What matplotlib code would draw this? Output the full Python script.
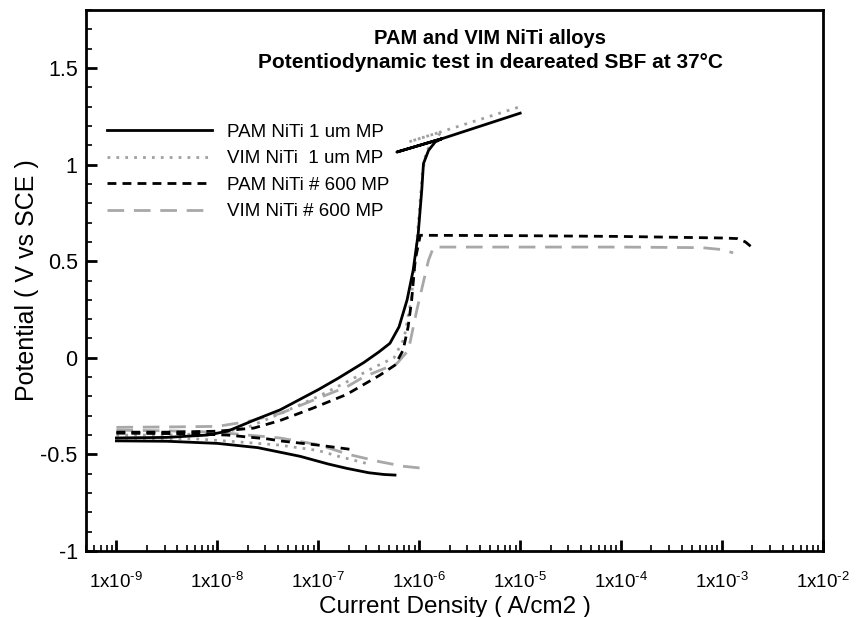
import matplotlib
matplotlib.use('Agg')
import matplotlib.pyplot as plt
import numpy as np
from matplotlib.ticker import FuncFormatter, LogLocator, MultipleLocator, NullFormatter

plt.rcParams['font.family'] = ['Liberation Sans', 'DejaVu Sans']
plt.rcParams['mathtext.fontset'] = 'custom'
plt.rcParams['mathtext.rm'] = 'Liberation Sans'
plt.rcParams['mathtext.it'] = 'Liberation Sans:italic'
plt.rcParams['mathtext.bf'] = 'Liberation Sans:bold'
plt.rcParams['axes.unicode_minus'] = False

# log10 of current density (A/cm2) and potential (V vs SCE)
pam1_cat_logi = [-9.0, -8.5, -8.0, -7.6, -7.18, -6.9, -6.72, -6.5, -6.35, -6.24]
pam1_cat_v = [-0.43, -0.432, -0.443, -0.465, -0.51, -0.55, -0.572, -0.595, -0.604, -0.607]
pam1_an_logi = [-9.0, -8.5, -8.1, -7.9, -7.6, -7.38, -7.0, -6.8, -6.55, -6.4, -6.29, -6.2,
                -6.12, -6.06, -6.01, -5.975, -5.958, -5.908, -5.842, -5.775, -6.22, -5.775, -5.0]
pam1_an_v = [-0.415, -0.412, -0.40, -0.38, -0.315, -0.27, -0.165, -0.105, -0.025, 0.03, 0.075, 0.16,
             0.30, 0.453, 0.643, 0.867, 1.005, 1.073, 1.117, 1.134, 1.065, 1.134, 1.266]

vim1_cat_logi = [-9.0, -8.2, -7.8, -7.38, -7.0, -6.8, -6.52]
vim1_cat_v = [-0.415, -0.42, -0.435, -0.452, -0.48, -0.51, -0.547]
vim1_an_logi = [-9.0, -8.5, -8.0, -7.7, -7.38, -7.0, -6.7, -6.45, -6.25, -6.15, -6.08, -6.04,
                -6.0, -5.97, -5.93, -5.85, -5.78, -6.106, -5.78, -5.016]
vim1_an_v = [-0.40, -0.40, -0.39, -0.36, -0.29, -0.20, -0.12, -0.05, 0.0, 0.1, 0.3, 0.5,
             0.75, 0.95, 1.07, 1.125, 1.17, 1.117, 1.17, 1.297]

pam600_cat_logi = [-9.0, -8.3, -7.9, -7.5, -7.38, -7.0, -6.65]
pam600_cat_v = [-0.39, -0.393, -0.40, -0.42, -0.43, -0.452, -0.476]
pam600_an_logi = [-9.0, -8.5, -8.0, -7.64, -7.38, -7.05, -6.72, -6.39, -6.24, -6.16, -6.11,
                  -6.075, -6.04, -5.99, -5.5, -5.0, -4.0, -3.0, -2.85, -2.77, -2.70]
pam600_an_v = [-0.385, -0.385, -0.38, -0.364, -0.325, -0.26, -0.19, -0.09, -0.038, 0.039, 0.16,
               0.298, 0.505, 0.634, 0.633, 0.632, 0.628, 0.62, 0.617, 0.60, 0.57]

vim600_cat_logi = [-9.0, -8.5, -8.0, -7.7, -7.38, -7.0, -6.7, -6.39, -6.15, -5.96]
vim600_cat_v = [-0.375, -0.378, -0.385, -0.40, -0.415, -0.45, -0.50, -0.538, -0.562, -0.572]
vim600_an_logi = [-9.0, -8.5, -8.0, -7.7, -7.376, -7.047, -6.716, -6.55, -6.386, -6.222, -6.107,
                  -6.024, -5.908, -5.858, -5.0, -4.0, -3.2, -3.0, -2.89]
vim600_an_v = [-0.36, -0.358, -0.355, -0.33, -0.288, -0.219, -0.15, -0.099, -0.064, -0.03, 0.039,
               0.246, 0.505, 0.573, 0.573, 0.573, 0.57, 0.56, 0.543]

labels = ['PAM NiTi 1 um MP', 'VIM NiTi  1 um MP', 'PAM NiTi # 600 MP', 'VIM NiTi # 600 MP']
x_decades = [-9, -8, -7, -6, -5, -4, -3, -2]

fig = plt.figure(figsize=(8.61, 6.17), dpi=100)
ax = fig.add_axes([86 / 861, 1 - 551 / 617, (823 - 86) / 861, (551 - 10) / 617])

styles = [
    dict(color='black', lw=2.0, ls='-'),
    dict(color='#a0a0a0', lw=2.0, ls=(0, (1, 2.2))),
    dict(color='black', lw=2.0, ls=(0, (3.2, 2.2))),
    dict(color='#a8a8a8', lw=2.0, ls=(0, (6, 3.5))),
]
series = [
    (pam1_cat_logi, pam1_cat_v, pam1_an_logi, pam1_an_v),
    (vim1_cat_logi, vim1_cat_v, vim1_an_logi, vim1_an_v),
    (pam600_cat_logi, pam600_cat_v, pam600_an_logi, pam600_an_v),
    (vim600_cat_logi, vim600_cat_v, vim600_an_logi, vim600_an_v),
]
order = [3, 1, 2, 0]  # draw grey ones first
handles = [None] * 4
for k in order:
    cl, cv, al, av = series[k]
    ax.plot(10 ** np.array(cl), cv, **styles[k])
    handles[k], = ax.plot(10 ** np.array(al), av, label=labels[k], **styles[k])

ax.set_xscale('log')
ax.set_xlim(5e-10, 1e-2)
ax.set_ylim(-1, 1.8)

ax.set_xticks(10.0 ** np.array(x_decades))
ax.set_xticklabels(['1x10$^{\\text{%d}}$' % d for d in x_decades])
ax.xaxis.set_minor_locator(LogLocator(base=10, subs=np.arange(2, 10), numticks=20))
ax.xaxis.set_minor_formatter(NullFormatter())
ax.yaxis.set_major_locator(MultipleLocator(0.5))
ax.yaxis.set_minor_locator(MultipleLocator(0.1))
ax.yaxis.set_major_formatter(FuncFormatter(lambda v, p: '%g' % round(v, 2)))

ax.tick_params(which='both', direction='in', top=False, right=False)
ax.tick_params(which='major', length=8, width=2)
ax.tick_params(axis='x', labelsize=13.5, pad=15)
ax.tick_params(axis='y', labelsize=15.5, pad=6)
ax.tick_params(which='minor', length=4, width=1.2)
for s in ax.spines.values():
    s.set_linewidth(2)

ax.set_xlabel('Current Density ( A/cm2 )', fontsize=17.5, labelpad=3)
ax.set_ylabel('Potential ( V vs SCE )', fontsize=18, labelpad=1)

fig.text(490 / 861, 1 - 38 / 617, 'PAM and VIM NiTi alloys', ha='center', va='center',
         fontsize=14.5, fontweight='bold')
fig.text(490 / 861, 1 - 63 / 617, 'Potentiodynamic test in deareated SBF at 37°C', ha='center',
         va='center', fontsize=15, fontweight='bold')

ax.legend(handles=handles, loc='upper left', bbox_to_anchor=(0.028, 0.79), frameon=False,
          fontsize=13.5, handlelength=5.6, handletextpad=0.8, labelspacing=0.5,
          borderaxespad=0, borderpad=0)

fig.savefig('out.png', dpi=100)
